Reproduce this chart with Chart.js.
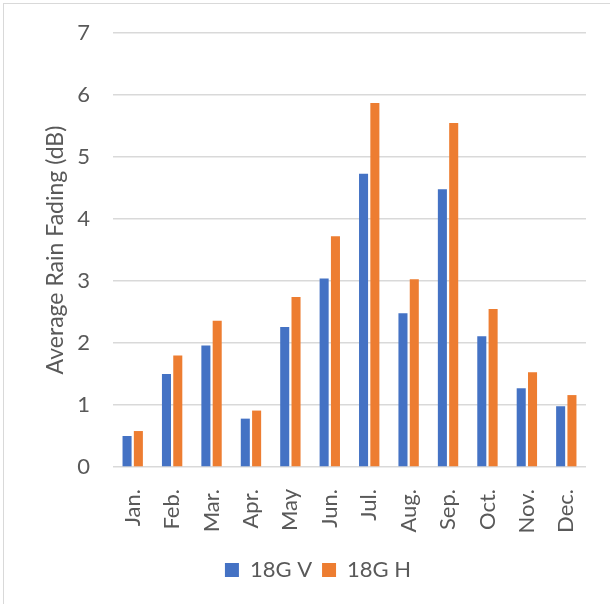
<!DOCTYPE html>
<html>
<head>
<meta charset="utf-8">
<script src="https://cdn.jsdelivr.net/npm/chart.js@4/dist/chart.umd.min.js"></script>
<style>
  html, body { margin: 0; padding: 0; background: #ffffff; overflow: hidden; }
  #frame { position: absolute; left: 3px; top: 3px; width: 700px; height: 700px; border: 1px solid #d9d9d9; }
  #wrap { position: absolute; left: 0; top: 0; width: 610px; height: 604px; }
</style>
</head>
<body>
<div id="frame"></div>
<div id="wrap"><canvas id="chart" width="610" height="604"></canvas></div>
<script>
// Monthly average rain fading at 18 GHz, vertical and horizontal polarisation
const months = ['Jan.', 'Feb.', 'Mar.', 'Apr.', 'May', 'Jun.', 'Jul.', 'Aug.', 'Sep.', 'Oct.', 'Nov.', 'Dec.'];
const fading18GV = [0.50, 1.50, 1.96, 0.78, 2.26, 3.04, 4.73, 2.48, 4.48, 2.11, 1.27, 0.98];
const fading18GH = [0.58, 1.80, 2.36, 0.91, 2.74, 3.72, 5.87, 3.03, 5.55, 2.55, 1.53, 1.16];
const yTicks = [0, 1, 2, 3, 4, 5, 6, 7];

const FONT = 'Lato, "Open Sans", "DejaVu Sans", sans-serif';
const TEXT = '#595959';

new Chart(document.getElementById('chart'), {
  type: 'bar',
  data: {
    labels: months,
    datasets: [
      { label: '18G V', data: fading18GV, backgroundColor: '#4472C4', borderWidth: 0 },
      { label: '18G H', data: fading18GH, backgroundColor: '#ED7D31', borderWidth: 0 }
    ]
  },
  options: {
    responsive: false,
    animation: false,
    devicePixelRatio: 1,
    datasets: { bar: { categoryPercentage: 0.574, barPercentage: 0.8 } },
    layout: { padding: { top: 33, right: 24, bottom: 13, left: 50 } },
    plugins: {
      tooltip: { enabled: false },
      legend: {
        position: 'bottom',
        labels: {
          font: { family: FONT, size: 22 },
          color: TEXT,
          boxWidth: 14,
          boxHeight: 14,
          padding: 10
        }
      }
    },
    scales: {
      x: {
        grid: { display: false },
        border: { display: false },
        ticks: {
          font: { family: FONT, size: 22 },
          color: TEXT,
          minRotation: 90,
          maxRotation: 90,
          padding: 14,
          autoSkip: false
        },
        afterFit: (s) => { s.height = 82; }
      },
      y: {
        min: 0,
        max: 7,
        afterBuildTicks: (s) => { s.ticks = yTicks.map(v => ({ value: v })); },
        grid: { color: '#d9d9d9', lineWidth: 1.4, drawTicks: false },
        border: { display: false },
        ticks: {
          font: { family: FONT, size: 22 },
          color: TEXT,
          padding: 23
        },
        title: {
          display: true,
          text: 'Average Rain Fading (dB)',
          font: { family: FONT, size: 23 },
          color: TEXT,
          padding: { top: -8, bottom: 0 }
        },
        afterFit: (s) => {
          s.width = 63;
          // the plot edges come from the layout padding alone
          s.paddingTop = 0;
          s.paddingBottom = 0;
        }
      }
    }
  }
});
</script>
</body>
</html>
